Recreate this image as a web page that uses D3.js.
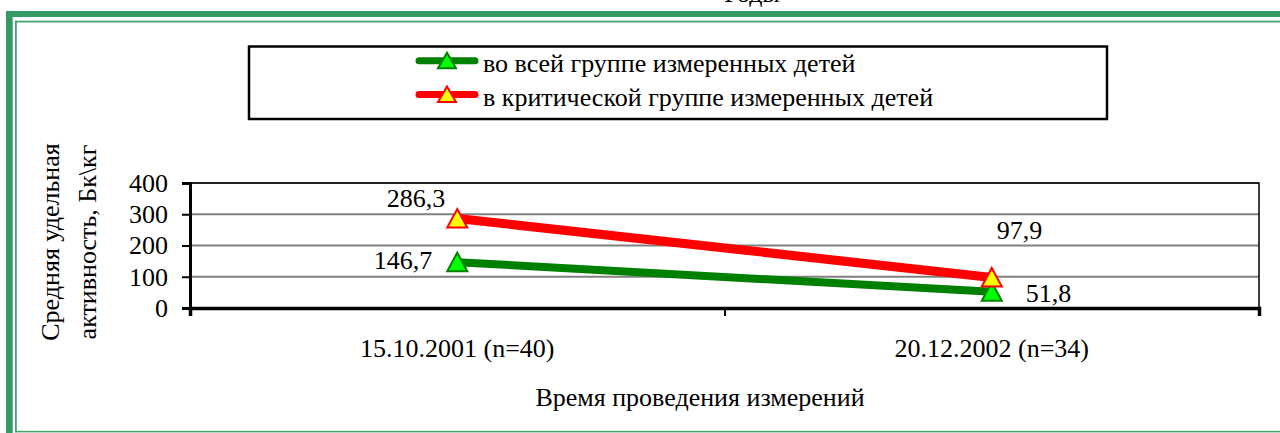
<!DOCTYPE html>
<html>
<head>
<meta charset="utf-8">
<script src="https://cdn.jsdelivr.net/npm/d3@7"></script>
<style>
  html, body { margin: 0; padding: 0; background: #fff; overflow: hidden; }
  svg text { font-family: 'Liberation Serif', 'Times New Roman', Times, 'DejaVu Serif', serif !important; }
</style>
</head>
<body>
<div id="chart"></div>
<script>
// data
const categories = ["15.10.2001 (n=40)", "20.12.2002 (n=34)"];
const seriesNames = ["во всей группе измеренных детей", "в критической группе измеренных детей"];
const allChildren = [146.7, 51.8];
const criticalGroup = [286.3, 97.9];
const yTicks = [0, 100, 200, 300, 400];
const chartTitle = "Годы";
const yTitle = ["Средняя удельная", "активность, Бк\\кг"];
const xTitle = "Время проведения измерений";

const W = 1280, H = 433;
const FONT = "'Liberation Serif', 'Times New Roman', Times, 'DejaVu Serif', serif";
const FS = "26px";
const plot = {left: 190, right: 1259, top: 183, bottom: 308};
const fmt = v => d3.format(".1f")(v).replace(".", ",");

const series = [
  {name: seriesNames[0], values: allChildren, line: "#008000", width: 8, fill: "#00ff00", stroke: "#008000",
   labelPos: [{dx: -25, dy: 6.5, anchor: "end"}, {dx: 34, dy: 10, anchor: "start"}]},
  {name: seriesNames[1], values: criticalGroup, line: "#ff0000", width: 9, fill: "#ffff00", stroke: "#ff0000",
   labelPos: [{dx: -12, dy: -12, anchor: "end"}, {dx: 5, dy: -38, anchor: "start"}]}
];

const svg = d3.select("#chart").append("svg")
  .attr("width", W).attr("height", H)
  .style("font-family", FONT);

function txt(sel) {
  return sel.style("font-family", FONT).style("font-size", FS).attr("fill", "#000");
}

// green frame
svg.append("rect").attr("x", 6).attr("y", 11).attr("width", 6.7).attr("height", H - 11).attr("fill", "#339966");
svg.append("rect").attr("x", 6).attr("y", 11).attr("width", W - 6).attr("height", 6).attr("fill", "#339966");
svg.append("rect").attr("x", 15).attr("y", 20.7).attr("width", 1.8).attr("height", 411.5).attr("fill", "#46a374");
svg.append("rect").attr("x", 15).attr("y", 20.7).attr("width", W - 15).attr("height", 1.8).attr("fill", "#46a374");
svg.append("rect").attr("x", 15).attr("y", 430.8).attr("width", W - 15).attr("height", 1.6).attr("fill", "#46a374");

// clipped title at top
txt(svg.append("text")).attr("x", 752).attr("y", 2).attr("text-anchor", "middle").text(chartTitle);

// scales
const x = d3.scaleBand().domain(categories).range([plot.left, plot.right]);
const xEdge = d3.scaleLinear().domain([0, categories.length]).range([plot.left, plot.right]);
const y = d3.scaleLinear().domain([0, 400]).range([plot.bottom, plot.top]);

// gridlines
svg.append("g").selectAll("line").data(yTicks.filter(d => d > 0)).join("line")
  .attr("x1", plot.left).attr("x2", plot.right)
  .attr("y1", d => y(d)).attr("y2", d => y(d))
  .attr("stroke", "#808080").attr("stroke-width", 2);

// plot border (top and right)
svg.append("path")
  .attr("d", `M${plot.left},${y(400)}H${plot.right}V${plot.bottom}`)
  .attr("fill", "none").attr("stroke", "#000").attr("stroke-width", 1.5);

// y axis
const yAxis = svg.append("g").attr("transform", `translate(${plot.left},0)`)
  .call(d3.axisLeft(y).tickValues(yTicks).tickSize(8).tickPadding(14).tickFormat(d3.format("d")));
yAxis.attr("font-family", null).attr("font-size", null);
yAxis.select(".domain").attr("stroke-width", 3);
yAxis.selectAll(".tick line").attr("stroke-width", 2);
txt(yAxis.selectAll("text"));

// x axis: boundary ticks
const xAxis = svg.append("g").attr("transform", `translate(0,${plot.bottom})`)
  .call(d3.axisBottom(xEdge).tickValues(d3.range(categories.length + 1)).tickSize(8).tickFormat(""));
xAxis.select(".domain").attr("stroke-width", 3.5);
xAxis.selectAll(".tick line").attr("stroke-width", 2);

// category labels
const xLab = svg.append("g").attr("transform", `translate(0,${plot.bottom})`)
  .call(d3.axisBottom(x).tickSize(0).tickPadding(31));
xLab.attr("font-family", null).attr("font-size", null);
xLab.select(".domain").remove();
txt(xLab.selectAll("text"));

// series
const line = d3.line().x((d, i) => x(categories[i]) + x.bandwidth() / 2).y(d => y(d));
const tri = "M0,-9.5L10,9L-10,9Z";

series.forEach(s => {
  const g = svg.append("g");
  g.append("path").datum(s.values)
    .attr("d", line).attr("fill", "none")
    .attr("stroke", s.line).attr("stroke-width", s.width);
  g.selectAll("path.m").data(s.values).join("path").attr("class", "m")
    .attr("d", tri)
    .attr("transform", (d, i) => `translate(${x(categories[i]) + x.bandwidth() / 2},${y(d)})`)
    .attr("fill", s.fill).attr("stroke", s.stroke).attr("stroke-width", 2);
});

// data labels
series.forEach(s => {
  txt(svg.append("g").selectAll("text").data(s.values).join("text"))
    .attr("x", (d, i) => x(categories[i]) + x.bandwidth() / 2 + s.labelPos[i].dx)
    .attr("y", (d, i) => y(d) + s.labelPos[i].dy)
    .attr("text-anchor", (d, i) => s.labelPos[i].anchor)
    .text(d => fmt(d));
});

// legend
const legend = svg.append("g");
legend.append("rect").attr("x", 249).attr("y", 46.5).attr("width", 858).attr("height", 72.5)
  .attr("fill", "#fff").attr("stroke", "#000").attr("stroke-width", 2.5);
const legY = [60.7, 94.5];
series.forEach((s, i) => {
  legend.append("line").attr("x1", 419).attr("x2", 475).attr("y1", legY[i]).attr("y2", legY[i])
    .attr("stroke", s.line).attr("stroke-width", 7).attr("stroke-linecap", "round");
  legend.append("path").attr("d", "M0,-8L9,7.5L-9,7.5Z")
    .attr("transform", `translate(447,${legY[i]})`)
    .attr("fill", s.fill).attr("stroke", s.stroke).attr("stroke-width", 2);
  txt(legend.append("text")).attr("x", 483).attr("y", legY[i] + 11.5).text(s.name);
});

// axis titles
yTitle.forEach((t, i) => {
  txt(svg.append("text"))
    .attr("transform", `translate(${[59, 96][i]},242) rotate(-90)`)
    .attr("text-anchor", "middle").text(t);
});
txt(svg.append("text")).attr("x", 700).attr("y", 406).attr("text-anchor", "middle").text(xTitle);
</script>
</body>
</html>
